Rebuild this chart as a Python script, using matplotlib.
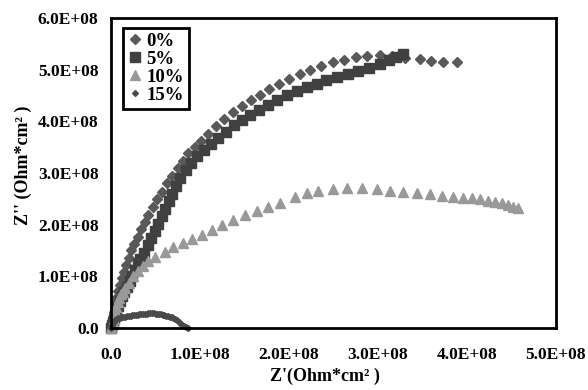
import matplotlib
matplotlib.use('Agg')
import matplotlib.pyplot as plt

# Nyquist data, values in units of 1e8 Ohm*cm2
x0 = [0, 0.005, 0.01, 0.02, 0.03, 0.04, 0.05, 0.065, 0.08, 0.1, 0.12, 0.145, 0.17, 0.2, 0.23,
      0.26, 0.3, 0.34, 0.38, 0.42, 0.47, 0.52, 0.57, 0.63, 0.69, 0.75, 0.81, 0.87, 0.94, 1.01,
      1.09, 1.18, 1.27, 1.37, 1.47, 1.57, 1.67, 1.78, 1.89, 2.0, 2.12, 2.24, 2.36, 2.49, 2.62,
      2.75, 2.88, 3.02, 3.16, 3.3, 3.47, 3.6, 3.73, 3.89]
y0 = [0, 0.06, 0.13, 0.21, 0.3, 0.4, 0.5, 0.6, 0.71, 0.83, 0.96, 1.09, 1.22, 1.36, 1.5,
      1.63, 1.77, 1.91, 2.05, 2.19, 2.34, 2.49, 2.64, 2.8, 2.95, 3.1, 3.24, 3.38, 3.51, 3.62,
      3.76, 3.9, 4.04, 4.18, 4.3, 4.41, 4.51, 4.62, 4.72, 4.82, 4.92, 5.0, 5.07, 5.14, 5.19,
      5.24, 5.27, 5.28, 5.27, 5.23, 5.2, 5.17, 5.15, 5.14]

x5 = [0, 0.01, 0.02, 0.03, 0.045, 0.06, 0.08, 0.1, 0.12, 0.15, 0.18, 0.21, 0.24, 0.27, 0.3,
      0.33, 0.37, 0.41, 0.45, 0.49, 0.53, 0.57, 0.61, 0.65, 0.69, 0.73, 0.78, 0.84, 0.9, 0.97,
      1.04, 1.12, 1.2, 1.29, 1.38, 1.47, 1.56, 1.66, 1.76, 1.87, 1.98, 2.09, 2.2, 2.31, 2.42,
      2.54, 2.66, 2.78, 2.9, 3.02, 3.12, 3.2, 3.28]
y5 = [0, 0.05, 0.11, 0.18, 0.26, 0.34, 0.43, 0.52, 0.61, 0.7, 0.8, 0.9, 1.01, 1.12, 1.23,
      1.34, 1.46, 1.6, 1.74, 1.88, 2.02, 2.16, 2.3, 2.45, 2.6, 2.75, 2.9, 3.05, 3.19, 3.32,
      3.44, 3.56, 3.68, 3.8, 3.92, 4.02, 4.12, 4.22, 4.32, 4.42, 4.51, 4.59, 4.66, 4.73, 4.79,
      4.86, 4.92, 4.98, 5.04, 5.11, 5.18, 5.25, 5.31]

x10 = [0, 0.01, 0.02, 0.03, 0.04, 0.05, 0.06, 0.075, 0.09, 0.11, 0.13, 0.16, 0.2, 0.25, 0.3,
       0.36, 0.42, 0.49, 0.61, 0.7, 0.81, 0.91, 1.02, 1.13, 1.25, 1.37, 1.51, 1.64, 1.76, 1.9,
       2.07, 2.2, 2.33, 2.49, 2.65, 2.82, 2.99, 3.13, 3.28, 3.44, 3.58, 3.72, 3.84, 3.96, 4.06,
       4.15, 4.24, 4.31, 4.39, 4.46, 4.52, 4.57]
y10 = [0, 0.05, 0.11, 0.18, 0.25, 0.33, 0.41, 0.5, 0.59, 0.65, 0.7, 0.78, 0.88, 1.0, 1.1,
       1.2, 1.29, 1.37, 1.47, 1.57, 1.64, 1.72, 1.8, 1.9, 1.99, 2.09, 2.19, 2.26, 2.34, 2.42,
       2.53, 2.61, 2.65, 2.69, 2.71, 2.71, 2.69, 2.65, 2.63, 2.61, 2.59, 2.55, 2.53, 2.51, 2.51,
       2.5, 2.46, 2.44, 2.42, 2.38, 2.34, 2.32]

x15 = [0, 0.005, 0.012, 0.02, 0.03, 0.045, 0.06, 0.08, 0.1, 0.12, 0.14, 0.16, 0.18, 0.2, 0.22,
       0.24, 0.26, 0.28, 0.3, 0.32, 0.34, 0.36, 0.38, 0.4, 0.42, 0.44, 0.46, 0.48, 0.5, 0.52,
       0.54, 0.56, 0.58, 0.6, 0.62, 0.64, 0.66, 0.68, 0.7, 0.72, 0.74, 0.76, 0.78, 0.8, 0.82,
       0.84, 0.86]
y15 = [0, 0.03, 0.06, 0.09, 0.12, 0.15, 0.17, 0.19, 0.2, 0.21, 0.215, 0.22, 0.225, 0.23, 0.24,
       0.245, 0.25, 0.255, 0.26, 0.265, 0.27, 0.275, 0.28, 0.28, 0.285, 0.285, 0.285, 0.285, 0.28, 0.28,
       0.275, 0.27, 0.26, 0.25, 0.24, 0.23, 0.22, 0.205, 0.19, 0.17, 0.15, 0.12, 0.09, 0.06, 0.03,
       0.01, 0.0]

legends = ['0%', '5%', '10%', '15%']
xticks = [0, 1, 2, 3, 4, 5]
xticklabels = ['0.0', '1.0E+08', '2.0E+08', '3.0E+08', '4.0E+08', '5.0E+08']
yticks = [0, 1, 2, 3, 4, 5, 6]
yticklabels = ['0.0', '1.0E+08', '2.0E+08', '3.0E+08', '4.0E+08', '5.0E+08', '6.0E+08']

plt.rcParams['font.family'] = ['Liberation Serif', 'DejaVu Serif']
plt.rcParams['font.weight'] = 'bold'

fig = plt.figure(figsize=(5.88, 3.90), dpi=100)
ax = fig.add_axes([0.1888, 0.159, 0.7568, 0.795])

ax.plot(x0, y0, 'D', ms=5, color='#595959', mec='#595959', label=legends[0], clip_on=False)
ax.plot(x5, y5, 's', ms=7.5, color='#404040', mec='#404040', label=legends[1], clip_on=False)
ax.plot(x10, y10, '^', ms=7, color='#999999', mec='#999999', label=legends[2], clip_on=False)
ax.plot(x15, y15, 'D', ms=3, color='#4a4a4a', mec='#4a4a4a', label=legends[3], clip_on=False)

ax.set_xlim(0, 5)
ax.set_ylim(0, 6)
ax.set_xticks(xticks)
ax.set_xticklabels(xticklabels)
ax.set_yticks(yticks)
ax.set_yticklabels(yticklabels)
ax.tick_params(length=0, labelsize=12.5)
ax.tick_params(axis='x', pad=14)
ax.tick_params(axis='y', pad=9)
for s in ax.spines.values():
    s.set_linewidth(2)

fig.text(0.553, 0.022, "Z'(Ohm*cm\u00b2 )", fontsize=13, fontweight='bold', ha='center')
fig.text(0.04, 0.575, "Z'' (Ohm*cm\u00b2 )", fontsize=13, fontweight='bold',
         rotation=90, ha='center', va='center')

leg = ax.legend(loc='upper left', bbox_to_anchor=(0.027, 0.968), borderaxespad=0,
                fancybox=False, framealpha=1, edgecolor='black', fontsize=13.5,
                handlelength=0.8, handletextpad=0.2, labelspacing=0.05, borderpad=0.25)
leg.get_frame().set_linewidth(2)

fig.savefig('out.png', dpi=100)
